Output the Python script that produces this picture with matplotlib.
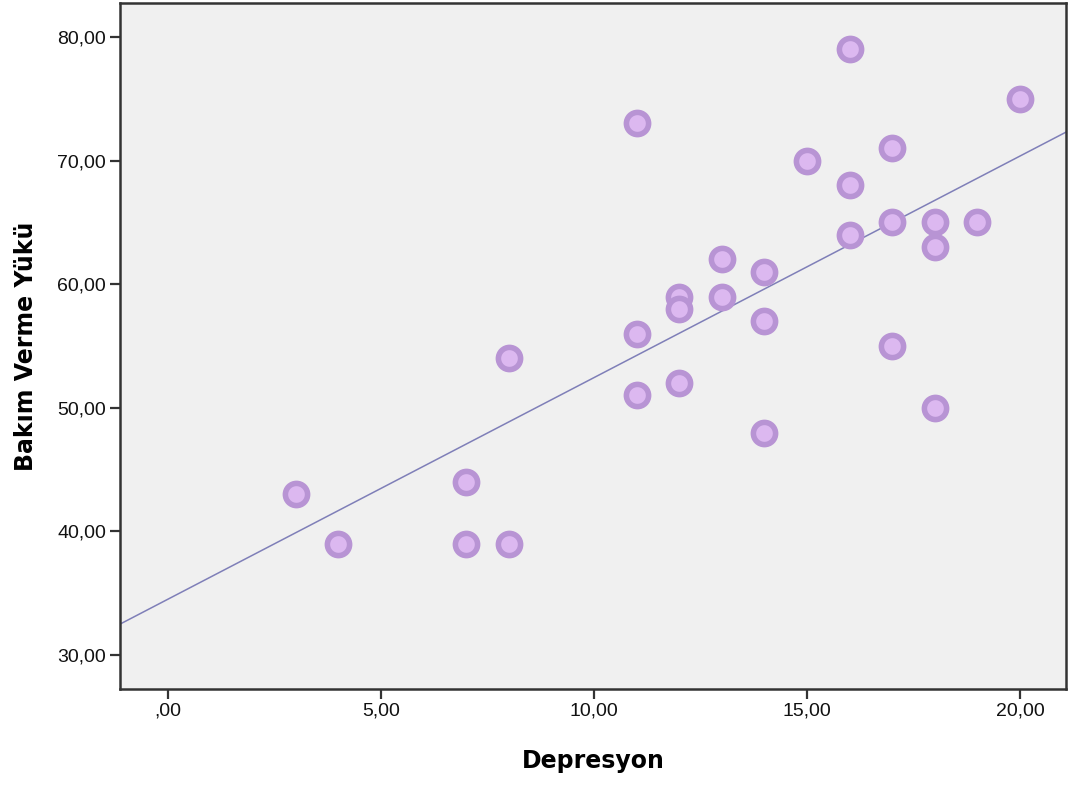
import numpy as np
import matplotlib
matplotlib.use('Agg')
import matplotlib.pyplot as plt
from matplotlib.ticker import FuncFormatter

# Veriler
depresyon = [3, 4, 7, 7, 8, 8, 11, 11, 11, 12, 12, 12, 13, 13, 14, 14, 14,
             15, 16, 16, 16, 17, 17, 17, 18, 18, 18, 19, 20]
bakim = [43, 39, 44, 39, 54, 39, 73, 56, 51, 59, 58, 52, 62, 59, 61, 57, 48,
         70, 79, 68, 64, 71, 65, 55, 65, 63, 50, 65, 75]
x_ticks = [0, 5, 10, 15, 20]
y_ticks = [30, 40, 50, 60, 70, 80]

plt.rcParams['font.family'] = ['Liberation Sans', 'DejaVu Sans']

fig = plt.figure(figsize=(10.7, 7.85), dpi=100)
ax = fig.add_axes([0.1121, 0.1223, 0.8842, 0.8739])
ax.set_facecolor('#f0f0f0')

x = np.array(depresyon, dtype=float)
y = np.array(bakim, dtype=float)
egim, kesisim = np.polyfit(x, y, 1)

xlim = (-1.13, 21.08)
ax.set_xlim(xlim)
ax.set_ylim(27.25, 82.75)

xx = np.array(xlim)
ax.plot(xx, kesisim + egim * xx, color='#7f7fb8', lw=1.1, zorder=2)

# halka seklinde isaretler
ax.plot(x, y, 'o', ms=16, mfc='#dcb8f0', mec='#b894d4', mew=4,
        ls='none', zorder=3)


def virgul(v, p):
    s = ('%.2f' % v).replace('.', ',')
    if v == 0:
        s = s.lstrip('0')
    return s


ax.set_xticks(x_ticks)
ax.set_yticks(y_ticks)
ax.xaxis.set_major_formatter(FuncFormatter(virgul))
ax.yaxis.set_major_formatter(FuncFormatter(virgul))

for s in ax.spines.values():
    s.set_color('#333333')
    s.set_linewidth(1.8)
ax.tick_params(direction='out', length=7, width=1.6, color='#333333',
               labelsize=14, labelcolor='#111111', pad=3)

ax.set_xlabel('Depresyon', fontsize=17, fontweight='bold',
              family='DejaVu Sans', labelpad=21)
ax.set_ylabel('Bakım Verme Yükü', fontsize=17, fontweight='bold',
              family='DejaVu Sans', labelpad=14)

fig.savefig('out.png', dpi=100)
